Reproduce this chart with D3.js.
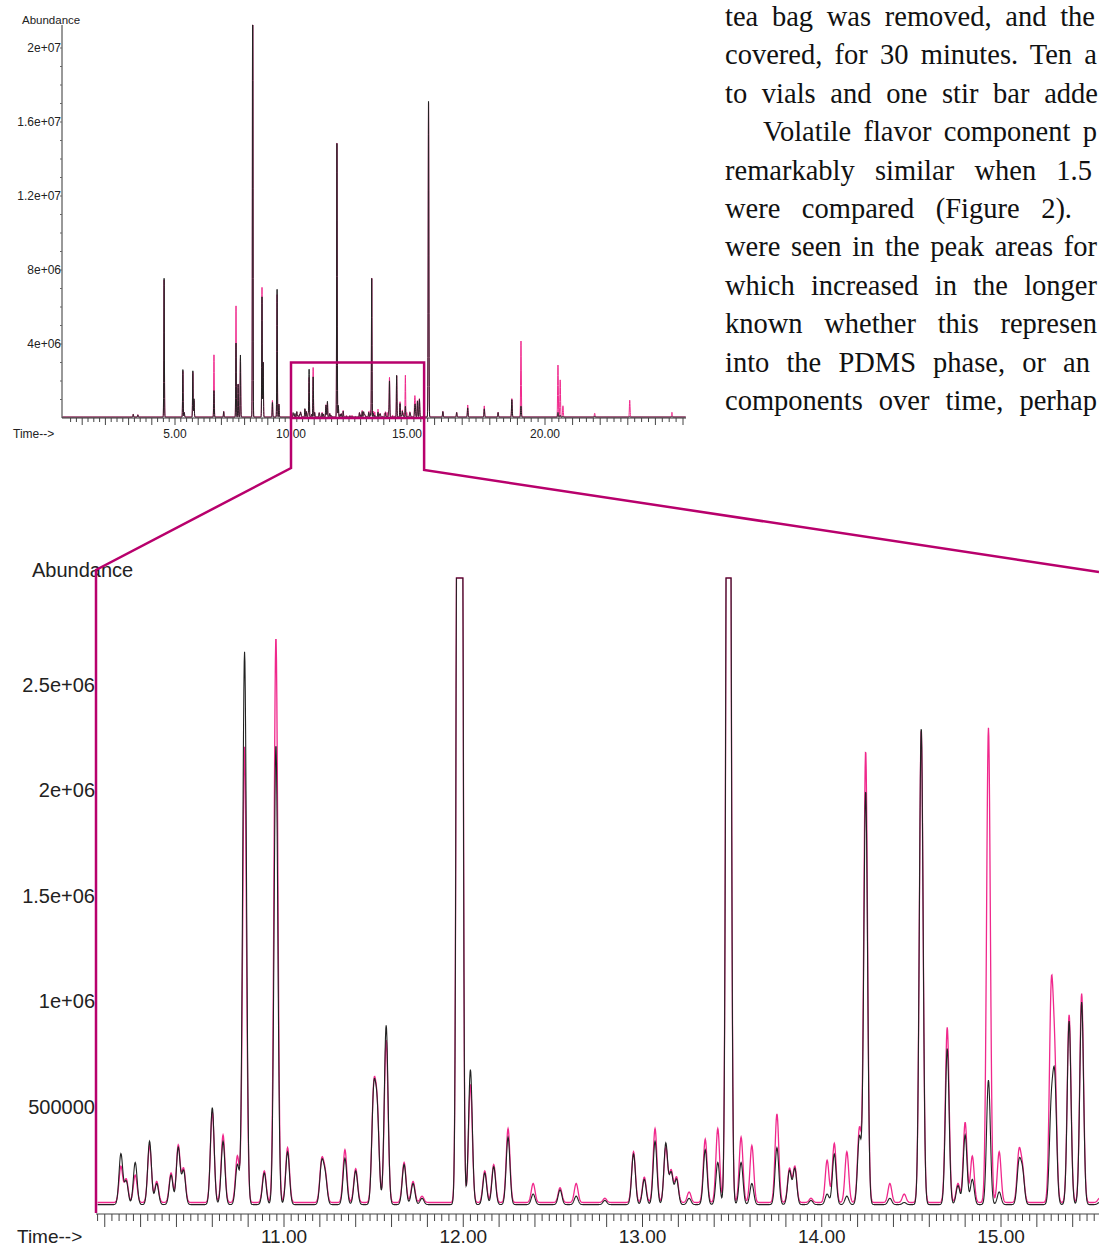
<!DOCTYPE html>
<html><head><meta charset="utf-8">
<script src="https://cdn.jsdelivr.net/npm/d3@7"></script>
<style>body{margin:0;background:#fff}svg{display:block}</style>
</head><body>
<svg id="c" width="1099" height="1247"></svg>
<script>
// ---- Data (retention time in minutes, abundance) ----
// peaks inside the zoomed window (10 - 15.6 min)
const zoomTimes   = [10.09,10.12,10.17,10.25,10.29,10.37,10.41,10.44,10.60,10.66,10.74,10.78,10.89,10.955,11.02,11.21,11.23,11.34,11.40,11.50,11.52,11.57,11.67,11.72,11.77,11.98,12.04,12.12,12.17,12.25,12.39,12.54,12.63,12.79,12.95,13.01,13.07,13.13,13.16,13.19,13.26,13.35,13.42,13.48,13.55,13.61,13.75,13.82,13.85,13.94,14.03,14.07,14.14,14.21,14.245,14.38,14.46,14.555,14.70,14.76,14.80,14.84,14.93,14.99,15.10,15.12,15.28,15.30,15.38,15.45,15.55];
const zoomBlack   = [240000,110000,200000,300000,100000,140000,270000,160000,460000,300000,190000,2620000,150000,2180000,250000,190000,130000,220000,160000,500000,420000,850000,190000,100000,30000,15000000,640000,150000,180000,320000,50000,70000,40000,20000,240000,120000,300000,290000,150000,120000,30000,260000,200000,7600000,200000,100000,270000,160000,170000,20000,50000,240000,40000,320000,1960000,30000,10000,2260000,740000,90000,330000,120000,590000,60000,190000,150000,430000,560000,870000,960000,10000];
const zoomMagenta = [170000,110000,130000,270000,100000,140000,270000,160000,430000,320000,220000,2160000,150000,2680000,260000,190000,130000,250000,160000,500000,420000,770000,190000,100000,30000,15000000,560000,150000,180000,350000,90000,70000,90000,20000,240000,120000,350000,260000,150000,120000,50000,300000,350000,7600000,310000,270000,420000,160000,170000,20000,200000,280000,240000,350000,2140000,90000,40000,2240000,830000,90000,380000,220000,2250000,240000,230000,150000,950000,620000,890000,990000,20000];
// peaks of the full run outside the zoomed window
const runTimes    = [3.2,3.4,4.53,5.34,5.40,5.77,5.82,6.68,7.10,7.63,7.72,7.82,8.35,8.75,8.80,9.20,9.40,9.48,15.78,16.3,16.8,17.2,17.8,18.3,18.8,19.13,20.47,20.55,20.65,21.8,23.07,24.6];
const runBlack    = [150000,120000,7500000,2600000,250000,2500000,1000000,1450000,300000,4000000,1800000,3400000,30000000,6500000,3000000,800000,7000000,700000,17300000,300000,250000,500000,450000,250000,950000,600000,250000,100000,50000,60000,30000,30000];
const runMagenta  = [150000,120000,7400000,2500000,250000,2400000,900000,3400000,300000,6000000,1800000,3200000,30000000,7000000,3000000,900000,6700000,700000,17200000,300000,250000,650000,600000,250000,1000000,4100000,2800000,2000000,600000,200000,900000,250000];
const blackBase = 35000, magentaBase = 45000;
const topYTicks = [4e6, 8e6, 1.2e7, 1.6e7, 2e7];
const topXTicks = [5, 10, 15, 20];
const botYTicks = [500000, 1e6, 1.5e6, 2e6, 2.5e6];
const botXTicks = [11, 12, 13, 14, 15];
const textLines = ["tea bag was removed, and the","covered, for 30 minutes. Ten a","to vials and one stir bar adde","Volatile flavor component p","remarkably similar when 1.5","were compared (Figure 2).","were seen in the peak areas for","which increased in the longer","known whether this represen","into the PDMS phase, or an","components over time, perhap"];

const MAG = "#f0288c", BLK = "#222", BOX = "#b8006c";
const svg = d3.select("#c");

function trace(times, heights, base, t0, t1, step, sigma) {
  const pts = [];
  for (let t = t0; t <= t1 + 1e-9; t += step) {
    let v = base;
    for (let i = 0; i < times.length; i++) {
      const d = (t - times[i]) / sigma;
      if (Math.abs(d) < 6) v += heights[i] * Math.exp(-0.5 * d * d);
    }
    pts.push([t, v]);
  }
  return pts;
}

// ---------- Top chart ----------
const xT = d3.scaleLinear().domain([5,10,15,20]).range([175,291,407,545]);
const yT = d3.scaleLinear().domain([0,4e6]).range([418,344]);
const topMax = yT.invert(25);
const tTimes = runTimes.concat(zoomTimes);
const lineT = d3.line().x(d=>xT(d[0])).y(d=>yT(Math.min(d[1], topMax)));
const tm = trace(tTimes, runMagenta.concat(zoomMagenta), 60000, 0.15, 25.1, 0.004, 0.012);
const tb = trace(tTimes, runBlack.concat(zoomBlack), 50000, 0.15, 25.1, 0.004, 0.012);
svg.append("path").attr("d", lineT(tm)).attr("fill","none").attr("stroke",MAG).attr("stroke-width",1);
svg.append("path").attr("d", lineT(tb)).attr("fill","none").attr("stroke",BLK).attr("stroke-width",1);

const gT = svg.append("g").attr("font-family","Liberation Sans, Arial, sans-serif").attr("fill","#222");
gT.append("line").attr("x1",62).attr("x2",62).attr("y1",25).attr("y2",418).attr("stroke","#333");
gT.append("line").attr("x1",62).attr("x2",686).attr("y1",418).attr("y2",418).attr("stroke","#333");
for (let v = 1e6; v < 2.1e7; v += 1e6) gT.append("line").attr("x1",60).attr("x2",62).attr("y1",yT(v)).attr("y2",yT(v)).attr("stroke","#666");
topYTicks.forEach(v=>{
  gT.append("text").attr("x",61).attr("y",yT(v)+4).attr("text-anchor","end").attr("font-size",12)
    .text(d3.format(".1e")(v).replace(".0e","e").replace("e+7","e+07").replace("e+6","e+06"));
});
for (let t = 0.5; t <= 25.01; t += 0.25) {
  const maj = Math.abs(t - Math.round(t)) < 1e-6;
  if (xT(t) < 63 || xT(t) > 686) continue;
  gT.append("line").attr("x1",xT(t)).attr("x2",xT(t)).attr("y1",418).attr("y2",418+(maj?7:4)).attr("stroke","#444");
}
topXTicks.forEach(t=>gT.append("text").attr("x",xT(t)).attr("y",438).attr("text-anchor","middle").attr("font-size",12).text(t.toFixed(2)));
gT.append("text").attr("x",22).attr("y",24).attr("font-size",11.5).text("Abundance");
gT.append("text").attr("x",13).attr("y",438).attr("font-size",12).text("Time-->");

// ---------- Bottom chart ----------
const xB = d3.scaleLinear().domain([11,15]).range([284,1001]);
const yB = d3.scaleLinear().domain([0,500000]).range([1212,1106.5]);
const botMax = yB.invert(578);
const lineB = d3.line().x(d=>xB(d[0])).y(d=>yB(Math.min(d[1], botMax)));
const bm = trace(zoomTimes, zoomMagenta, magentaBase, 9.96, 15.56, 0.002, 0.0105);
const bb = trace(zoomTimes, zoomBlack, blackBase, 9.96, 15.56, 0.002, 0.0105);
svg.append("path").attr("d", lineB(bm)).attr("fill","none").attr("stroke",MAG).attr("stroke-width",1.3);
svg.append("path").attr("d", lineB(bb)).attr("fill","none").attr("stroke",BLK).attr("stroke-width",1.1);

const gB = svg.append("g").attr("font-family","Liberation Sans, Arial, sans-serif").attr("fill","#222");
gB.append("line").attr("x1",96).attr("x2",1099).attr("y1",1214).attr("y2",1214).attr("stroke","#444").attr("stroke-width",1.2);
for (let t = 9.96; t <= 15.6; t += 0.04) {
  const tt = Math.round(t*100)/100;
  const maj = Math.abs(tt*5 - Math.round(tt*5)) < 1e-6;
  if (xB(tt) < 97 || xB(tt) > 1099) continue;
  gB.append("line").attr("x1",xB(tt)).attr("x2",xB(tt)).attr("y1",1214).attr("y2",1214+(maj?13:7)).attr("stroke","#444");
}
botXTicks.forEach(t=>gB.append("text").attr("x",xB(t)).attr("y",1243).attr("text-anchor","middle").attr("font-size",19).text(t.toFixed(2)));
botYTicks.forEach(v=>gB.append("text").attr("x",95).attr("y",yB(v)+7).attr("text-anchor","end").attr("font-size",20)
  .text(v >= 1e6 ? (v/1e6) + "e+06" : String(v)));
gB.append("text").attr("x",32).attr("y",577).attr("font-size",20).text("Abundance");
gB.append("text").attr("x",17).attr("y",1243).attr("font-size",19).text("Time-->");

// ---------- zoom box & connectors ----------
const bx0 = xT(10), bx1 = xT(15.62), by0 = yT(3e6);
const g = svg.append("g").attr("fill","none").attr("stroke",BOX).attr("stroke-width",2.5);
g.append("rect").attr("x",bx0).attr("y",by0).attr("width",bx1-bx0).attr("height",418-by0);
g.append("polyline").attr("points",`${bx0},418 ${bx0},468 96,570 96,1213`);
g.append("polyline").attr("points",`${bx1},418 ${bx1},470 1099,572`);

// ---------- text column (justified via word spacing) ----------
const gx = svg.append("g").attr("font-family","Liberation Serif, Times New Roman, serif").attr("font-size",28.5).attr("fill","#111");
const lineEnds = [1095,1097,1098,1097,1092,1072,1097,1097,1097,1090,1097];
textLines.forEach((s,i)=>{
  const x = i === 3 ? 763 : 725;
  const el = gx.append("text").attr("x",x).attr("y",26 + i*38.4).text(s);
  const len = el.node().getComputedTextLength();
  const spaces = (s.match(/ /g) || []).length;
  el.attr("word-spacing", Math.max(-2, (lineEnds[i] - x - len) / spaces));
});
</script>
</body></html>
